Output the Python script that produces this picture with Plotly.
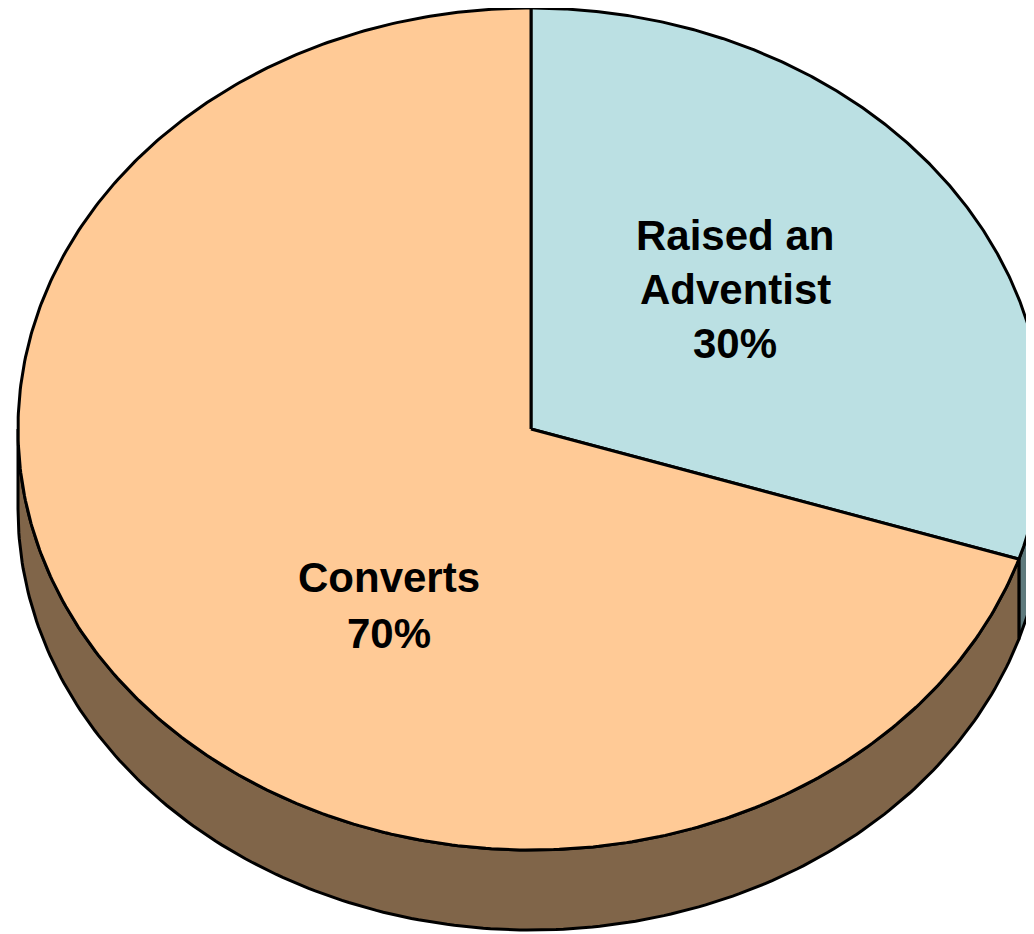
import numpy as np
import plotly.graph_objects as go

# ---- data ----
labels = ["Raised an Adventist", "Converts"]
label_lines = [["Raised an", "Adventist"], ["Converts"]]
values = [30, 70]
top_colors = ["#BBE0E3", "#FFCA96"]
side_colors = ["#5E7A7D", "#806549"]

# ---- layout / geometry (pixels) ----
W, H = 1034, 934
OFF = 8  # page body margin compensation
CX, CY = 531, 429
A, B = 513, 421
DEPTH = 80
LABEL_POS = [(735, 289), (389, 605)]
LINE_STEP = [54, 56]


def ell(theta_deg, dy=0.0):
    t = np.radians(theta_deg)
    return CX + A * np.sin(t), CY - B * np.cos(t) + dy


fig = go.Figure()

total = float(sum(values))
starts = []
acc = 0.0
for v in values:
    starts.append((acc / total * 360.0, (acc + v) / total * 360.0))
    acc += v

# side walls (visible front half: 90..270 deg)
for (t0, t1), col in zip(starts, side_colors):
    s0, s1 = max(t0, 90.0), min(t1, 270.0)
    if s1 <= s0:
        continue
    th = np.linspace(s0, s1, 200)
    xt, yt = ell(th)
    xb, yb = ell(th[::-1], DEPTH)
    xs = np.concatenate([xt, xb, xt[:1]])
    ys = np.concatenate([yt, yb, yt[:1]])
    fig.add_trace(go.Scatter(x=xs, y=ys, mode="lines", fill="toself",
                             fillcolor=col, line=dict(color="black", width=3),
                             hoverinfo="skip", showlegend=False))

# top slices
for (t0, t1), col, lab, v in zip(starts, top_colors, labels, values):
    th = np.linspace(t0, t1, 400)
    xt, yt = ell(th)
    xs = np.concatenate([[CX], xt, [CX]])
    ys = np.concatenate([[CY], yt, [CY]])
    fig.add_trace(go.Scatter(x=xs, y=ys, mode="lines", fill="toself",
                             fillcolor=col, line=dict(color="black", width=3),
                             name=lab, hoverinfo="skip", showlegend=False))

# labels
for lines, v, (lx, ly), step in zip(label_lines, values, LABEL_POS, LINE_STEP):
    all_lines = lines + [f"{v}%"]
    n = len(all_lines)
    for i, txt in enumerate(all_lines):
        y = ly + (i - (n - 1) / 2.0) * step
        fig.add_annotation(x=lx, y=y, text=f"<b>{txt}</b>", showarrow=False,
                           xanchor="center", yanchor="middle",
                           font=dict(family="Liberation Sans, Arial", size=42, color="black"))

fig.update_xaxes(range=[OFF, W], visible=False, fixedrange=True)
fig.update_yaxes(range=[H, OFF], visible=False, fixedrange=True)
fig.update_layout(width=W - OFF, height=H - OFF, margin=dict(l=0, r=0, t=0, b=0),
                  paper_bgcolor="white", plot_bgcolor="white")

fig.write_html("out.html")
